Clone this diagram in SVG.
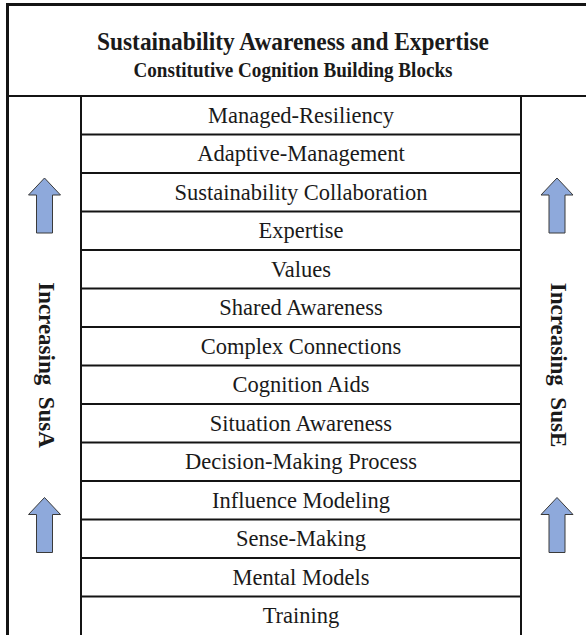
<svg xmlns="http://www.w3.org/2000/svg" width="586" height="635" viewBox="0 0 586 635">
<style>
.ln{stroke:#141414;stroke-width:2;fill:none}
.bd{stroke:#141414;stroke-width:3;fill:none}
.row{font-family:"Liberation Serif","Times New Roman",serif;font-size:22.5px;fill:#1a1a1a;text-anchor:middle}
.ttl{font-family:"Liberation Serif","Times New Roman",serif;font-weight:bold;fill:#1a1a1a;text-anchor:middle}
.side{font-family:"Liberation Serif","Times New Roman",serif;font-weight:bold;font-size:23px;fill:#1a1a1a;text-anchor:middle}
.arr{fill:#8EA9DB;stroke:#3a3a3a;stroke-width:1}
</style>
<defs>
<path id="up" class="arr" d="M0,0 L16,17 L8,17 L8,55 L-8,55 L-8,17 L-16,17 Z"/>
</defs>
<rect width="586" height="635" fill="#fff"/>
<g id="frame">
<line class="bd" x1="7.5" y1="3" x2="7.5" y2="635"/>
<line class="bd" x1="6" y1="4.5" x2="586" y2="4.5"/>
<line class="ln" x1="6" y1="96" x2="586" y2="96"/>
<line class="ln" x1="81" y1="96" x2="81" y2="635"/>
<line class="ln" x1="521" y1="96" x2="521" y2="635"/>
</g>
<g id="header">
<text class="ttl" x="293" y="49.5" font-size="25.5" textLength="392" lengthAdjust="spacingAndGlyphs">Sustainability Awareness and Expertise</text>
<text class="ttl" x="293" y="76.5" font-size="21" textLength="319" lengthAdjust="spacingAndGlyphs">Constitutive Cognition Building Blocks</text>
</g>
<g id="connectors">
<line class="ln" x1="81" y1="134.5" x2="521" y2="134.5"/>
<line class="ln" x1="81" y1="173" x2="521" y2="173"/>
<line class="ln" x1="81" y1="211.5" x2="521" y2="211.5"/>
<line class="ln" x1="81" y1="250" x2="521" y2="250"/>
<line class="ln" x1="81" y1="288.5" x2="521" y2="288.5"/>
<line class="ln" x1="81" y1="327" x2="521" y2="327"/>
<line class="ln" x1="81" y1="365.5" x2="521" y2="365.5"/>
<line class="ln" x1="81" y1="404" x2="521" y2="404"/>
<line class="ln" x1="81" y1="442.5" x2="521" y2="442.5"/>
<line class="ln" x1="81" y1="481" x2="521" y2="481"/>
<line class="ln" x1="81" y1="519.5" x2="521" y2="519.5"/>
<line class="ln" x1="81" y1="558" x2="521" y2="558"/>
<line class="ln" x1="81" y1="596.5" x2="521" y2="596.5"/>
</g>
<g id="n1"><text class="row" x="301" y="122.8">Managed-Resiliency</text></g>
<g id="n2"><text class="row" x="301" y="161.3">Adaptive-Management</text></g>
<g id="n3"><text class="row" x="301" y="199.8">Sustainability Collaboration</text></g>
<g id="n4"><text class="row" x="301" y="238.3">Expertise</text></g>
<g id="n5"><text class="row" x="301" y="276.8">Values</text></g>
<g id="n6"><text class="row" x="301" y="315.3">Shared Awareness</text></g>
<g id="n7"><text class="row" x="301" y="353.8">Complex Connections</text></g>
<g id="n8"><text class="row" x="301" y="392.3">Cognition Aids</text></g>
<g id="n9"><text class="row" x="301" y="430.8">Situation Awareness</text></g>
<g id="n10"><text class="row" x="301" y="469.3">Decision-Making Process</text></g>
<g id="n11"><text class="row" x="301" y="507.8">Influence Modeling</text></g>
<g id="n12"><text class="row" x="301" y="546.3">Sense-Making</text></g>
<g id="n13"><text class="row" x="301" y="584.8">Mental Models</text></g>
<g id="n14"><text class="row" x="301" y="623.3">Training</text></g>
<g id="left-axis">
<use href="#up" x="44.5" y="178"/>
<use href="#up" x="44.5" y="497.5"/>
<text class="side" transform="translate(39,365) rotate(90)" xml:space="preserve">Increasing  SusA</text>
</g>
<g id="right-axis">
<use href="#up" x="557" y="178"/>
<use href="#up" x="557" y="497.5"/>
<text class="side" transform="translate(550.5,365) rotate(90)" xml:space="preserve">Increasing  SusE</text>
</g>
</svg>
